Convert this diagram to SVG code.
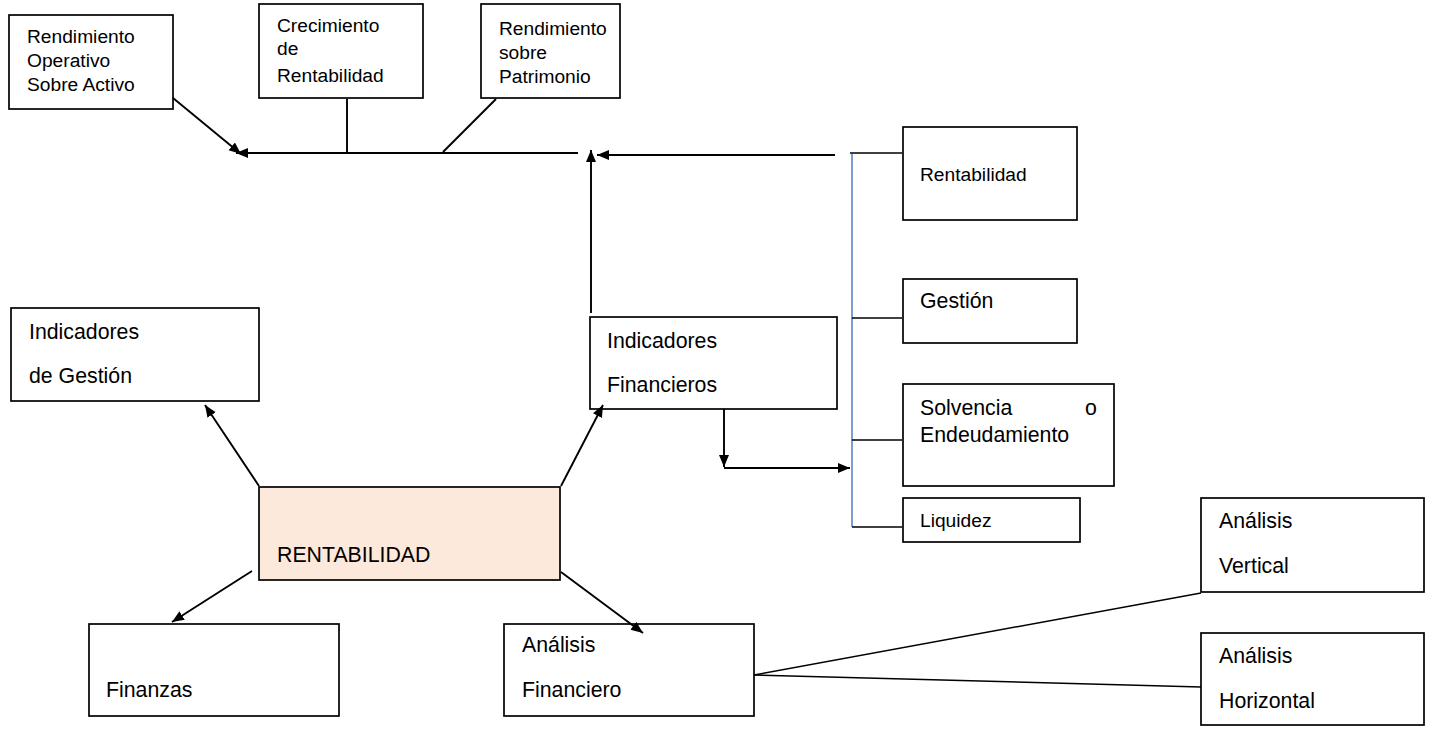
<svg xmlns="http://www.w3.org/2000/svg" width="1432" height="731" viewBox="0 0 1432 731">
<style>
.box{fill:#fff;stroke:#000;stroke-width:1.7}
.main{fill:#fde9db;stroke:#000;stroke-width:1.7}
.t{font-family:"Liberation Sans",Arial,sans-serif;font-size:21.3px;fill:#000}
.s{font-family:"Liberation Sans",Arial,sans-serif;font-size:19.2px;fill:#000}
.c{stroke:#000;stroke-width:1.9;fill:none}
.k{stroke:#000;stroke-width:1.5;fill:none}
.b{stroke:#4f81bd;stroke-width:1.5;fill:none}
</style>
<defs>
<marker id="ah" markerUnits="userSpaceOnUse" markerWidth="14" markerHeight="12" refX="12" refY="5" orient="auto">
<path d="M0,0 L12,5 L0,10 z" fill="#000"/>
</marker>
</defs>
<rect width="1432" height="731" fill="#fff"/>
<g id="n-roa"><rect class="box" x="9" y="15" width="164" height="94"/>
<text class="s" x="27" y="43">Rendimiento</text><text class="s" x="27" y="67">Operativo</text><text class="s" x="27" y="91">Sobre Activo</text></g>
<g id="n-crec"><rect class="box" x="259" y="4" width="164" height="94"/>
<text class="s" x="277" y="32">Crecimiento</text><text class="s" x="277" y="55">de</text><text class="s" x="277" y="82">Rentabilidad</text></g>
<g id="n-rsp"><rect class="box" x="481" y="4" width="139" height="94"/>
<text class="s" x="499" y="35">Rendimiento</text><text class="s" x="499" y="59">sobre</text><text class="s" x="499" y="83">Patrimonio</text></g>
<g id="n-rent"><rect class="box" x="903" y="127" width="174" height="93"/>
<text class="s" x="920" y="181">Rentabilidad</text></g>
<g id="n-gest"><rect class="box" x="903" y="279" width="174" height="64"/>
<text class="t" x="920" y="308">Gestión</text></g>
<g id="n-solv"><rect class="box" x="903" y="384" width="211" height="102"/>
<text class="t" x="920" y="415">Solvencia</text><text class="t" x="1085" y="415">o</text><text class="t" x="920" y="442">Endeudamiento</text></g>
<g id="n-liq"><rect class="box" x="903" y="498" width="177" height="44"/>
<text class="s" x="920" y="527">Liquidez</text></g>
<g id="n-indfin"><rect class="box" x="590" y="317" width="247" height="92"/>
<text class="t" x="607" y="348">Indicadores</text><text class="t" x="607" y="392">Financieros</text></g>
<g id="n-indges"><rect class="box" x="11" y="308" width="248" height="93"/>
<text class="t" x="29" y="339">Indicadores</text><text class="t" x="29" y="383">de Gestión</text></g>
<g id="n-main"><rect class="main" x="259" y="487" width="301" height="93"/>
<text class="t" x="277" y="562">RENTABILIDAD</text></g>
<g id="n-fin"><rect class="box" x="89" y="624" width="250" height="92"/>
<text class="t" x="106" y="697">Finanzas</text></g>
<g id="n-afin"><rect class="box" x="504" y="624" width="250" height="92"/>
<text class="t" x="522" y="652">Análisis</text><text class="t" x="522" y="697">Financiero</text></g>
<g id="n-avert"><rect class="box" x="1201" y="498" width="223" height="94"/>
<text class="t" x="1219" y="528">Análisis</text><text class="t" x="1219" y="573">Vertical</text></g>
<g id="n-ahor"><rect class="box" x="1201" y="633" width="223" height="92"/>
<text class="t" x="1219" y="663">Análisis</text><text class="t" x="1219" y="708">Horizontal</text></g>
<g id="connectors">
<line class="c" x1="173" y1="98" x2="241" y2="154" marker-end="url(#ah)"/>
<line class="c" x1="578" y1="153" x2="236" y2="153" marker-end="url(#ah)"/>
<line class="c" x1="347" y1="99" x2="347" y2="152"/>
<line class="c" x1="496" y1="99" x2="443" y2="152"/>
<line class="c" x1="835" y1="155" x2="597" y2="155" marker-end="url(#ah)"/>
<line class="c" x1="591" y1="313" x2="591" y2="150" marker-end="url(#ah)"/>
<line class="b" x1="852" y1="154" x2="852" y2="527"/>
<line class="k" x1="850" y1="153" x2="902" y2="153"/>
<line class="k" x1="852" y1="318" x2="902" y2="318"/>
<line class="k" x1="852" y1="440" x2="902" y2="440"/>
<line class="k" x1="852" y1="527" x2="902" y2="527"/>
<line class="c" x1="724" y1="409" x2="724" y2="467" marker-end="url(#ah)"/>
<line class="c" x1="724" y1="468" x2="850" y2="468" marker-end="url(#ah)"/>
<line class="c" x1="259" y1="486" x2="205" y2="405" marker-end="url(#ah)"/>
<line class="c" x1="561" y1="486" x2="603" y2="405" marker-end="url(#ah)"/>
<line class="c" x1="252" y1="571" x2="172" y2="622" marker-end="url(#ah)"/>
<line class="c" x1="561" y1="572" x2="643" y2="633" marker-end="url(#ah)"/>
<line class="k" x1="754" y1="675" x2="1201" y2="593"/>
<line class="k" x1="754" y1="675" x2="1201" y2="687"/>
</g>
</svg>
